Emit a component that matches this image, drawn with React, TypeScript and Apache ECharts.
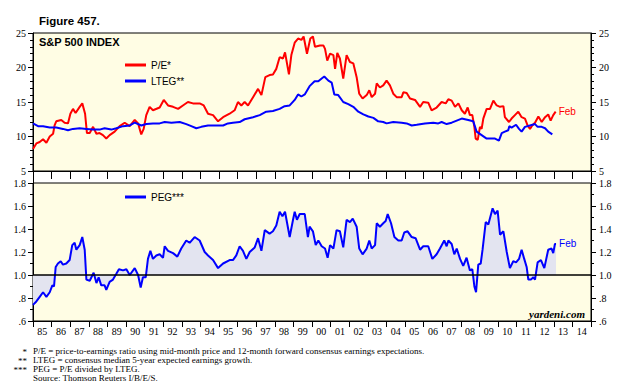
import React, { useEffect, useRef } from "react";
import * as echarts from "echarts";

const YEARS = ["85","86","87","88","89","90","91","92","93","94","95","96","97","98","99","00","01","02","03","04","05","06","07","08","09","10","11","12","13","14"];

const PE_TICKS = [5, 10, 15, 20, 25];
const PEG_TICKS = [0.6, 0.8, 1.0, 1.2, 1.4, 1.6, 1.8];
const PEG_TICK_LABELS = [".6", ".8", "1.0", "1.2", "1.4", "1.6", "1.8"];

const peData: [number, number][] = [
  [1985.00,8.2],[1985.18,9.0],[1985.36,9.2],[1985.54,9.6],[1985.72,9.1],[1985.90,10.0],[1986.08,10.4],[1986.16,11.6],[1986.25,12.2],[1986.52,12.4],[1986.70,12.0],[1986.88,11.9],[1987.01,13.3],[1987.15,14.0],[1987.29,13.4],[1987.51,14.3],[1987.65,14.8],[1987.80,13.3],[1987.90,10.5],[1988.05,10.5],[1988.23,11.4],[1988.41,10.4],[1988.58,10.5],[1988.76,10.2],[1988.94,9.7],[1989.12,10.2],[1989.39,10.7],[1989.66,11.5],[1989.93,12.0],[1990.20,11.5],[1990.47,12.4],[1990.65,11.9],[1990.82,10.3],[1990.95,11.1],[1991.09,13.1],[1991.27,14.3],[1991.45,13.8],[1991.81,14.2],[1992.03,15.3],[1992.26,14.5],[1992.53,14.3],[1992.80,14.0],[1993.06,14.5],[1993.33,15.0],[1993.60,14.8],[1993.96,14.8],[1994.18,14.5],[1994.41,13.3],[1994.68,13.1],[1994.95,12.2],[1995.22,12.8],[1995.57,13.3],[1995.84,13.8],[1996.02,15.0],[1996.20,14.5],[1996.38,15.0],[1996.56,14.5],[1996.83,15.7],[1997.10,16.9],[1997.28,16.0],[1997.49,18.6],[1997.72,18.9],[1997.90,19.0],[1998.08,19.8],[1998.26,21.5],[1998.44,21.3],[1998.55,22.2],[1998.76,19.0],[1998.89,21.8],[1999.07,23.6],[1999.25,24.2],[1999.43,24.0],[1999.55,24.5],[1999.73,22.0],[1999.91,24.2],[2000.05,24.5],[2000.16,23.0],
  [2000.43,23.2],[2000.61,23.2],[2000.70,22.7],[2000.82,21.0],[2000.97,22.0],[2001.15,21.8],[2001.24,19.8],[2001.36,22.1],[2001.50,21.3],[2001.68,18.4],[2001.86,21.8],[2002.04,20.8],[2002.22,20.6],[2002.40,18.6],[2002.54,16.2],[2002.72,15.5],[2002.94,16.0],[2003.08,16.7],[2003.21,15.7],[2003.39,16.2],[2003.48,17.7],[2003.65,17.1],[2003.83,17.4],[2004.01,18.1],[2004.19,17.4],[2004.37,16.2],[2004.55,15.7],[2004.82,15.7],[2004.91,16.4],[2005.09,16.3],[2005.27,15.5],[2005.54,15.3],[2005.81,14.3],[2005.98,15.0],[2006.25,14.9],[2006.43,13.8],[2006.70,14.2],[2006.97,15.0],[2007.19,14.8],[2007.33,15.4],[2007.51,15.2],[2007.69,14.3],[2007.87,14.8],[2008.05,13.8],[2008.22,13.3],[2008.37,14.2],[2008.49,13.1],[2008.62,13.1],[2008.73,11.4],[2008.80,9.7],[2008.91,9.5],[2009.03,11.4],[2009.12,11.1],[2009.21,12.6],[2009.39,14.0],[2009.57,14.0],[2009.75,15.2],[2009.93,14.5],[2010.11,14.3],[2010.29,14.4],[2010.37,12.8],[2010.59,12.1],[2010.73,12.6],[2010.91,13.1],[2011.09,13.6],[2011.27,12.8],[2011.45,12.6],[2011.59,11.6],[2011.72,11.1],[2011.84,11.6],[2011.99,12.0],[2012.17,12.9],[2012.35,12.1],[2012.53,12.8],[2012.70,13.2],[2012.83,12.3],[2012.97,13.1],[2013.10,13.6]
];

const ltegData: [number, number][] = [
  [1985.00,11.9],[1985.27,11.5],[1985.54,11.5],[1985.90,11.3],[1986.25,11.3],[1986.61,11.1],[1986.88,10.9],[1987.15,11.1],[1987.51,11.2],[1987.87,11.1],[1988.23,11.0],[1988.58,11.0],[1988.85,11.2],[1989.21,11.0],[1989.48,11.2],[1989.84,11.5],[1990.20,11.6],[1990.47,12.0],[1990.82,11.6],[1991.09,11.8],[1991.45,11.9],[1991.81,11.9],[1992.08,12.1],[1992.44,12.0],[1992.89,12.1],[1993.24,11.8],[1993.51,11.5],[1993.78,11.2],[1994.05,11.4],[1994.41,11.6],[1994.86,11.6],[1995.22,11.6],[1995.48,11.9],[1995.75,12.0],[1996.11,12.1],[1996.38,12.5],[1996.83,12.8],[1997.19,13.1],[1997.54,13.6],[1997.90,13.7],[1998.26,14.0],[1998.53,14.4],[1998.80,14.5],[1999.07,15.3],[1999.25,16.1],[1999.43,15.8],[1999.61,16.1],[1999.87,17.3],[2000.14,18.0],
  [2000.34,18.0],[2000.52,18.4],[2000.66,18.7],[2000.88,18.1],[2001.06,17.8],[2001.20,16.1],[2001.41,16.0],[2001.68,15.0],[2001.95,14.7],[2002.22,14.3],[2002.49,13.6],[2002.76,13.2],[2003.03,12.9],[2003.30,12.7],[2003.56,12.2],[2003.83,12.1],[2004.01,11.9],[2004.37,12.1],[2004.82,12.0],[2005.09,11.9],[2005.36,11.6],[2005.63,11.7],[2006.07,11.9],[2006.52,12.0],[2006.79,11.9],[2006.97,12.1],[2007.24,11.8],[2007.51,12.0],[2007.78,12.3],[2008.05,12.6],[2008.40,12.4],[2008.67,12.2],[2008.85,10.7],[2009.12,10.2],[2009.39,9.7],[2009.66,9.7],[2009.84,9.7],[2010.05,9.4],[2010.20,10.5],[2010.37,10.7],[2010.55,10.9],[2010.61,11.5],[2010.73,11.3],[2010.97,11.7],[2011.13,11.1],[2011.27,10.7],[2011.45,11.4],[2011.72,11.6],[2011.99,11.8],[2012.13,11.4],[2012.35,11.4],[2012.53,11.2],[2012.70,10.7],[2012.92,10.3]
];

const pegData: [number, number][] = [
  [1985.00,0.74],[1985.18,0.77],[1985.36,0.81],[1985.54,0.85],[1985.72,0.81],[1985.90,0.85],[1986.04,0.91],[1986.13,0.90],[1986.22,1.07],[1986.34,1.10],[1986.49,1.12],[1986.61,1.09],[1986.79,1.10],[1986.97,1.13],[1987.11,1.26],[1987.24,1.28],[1987.33,1.22],[1987.51,1.26],[1987.65,1.33],[1987.78,1.22],[1987.87,0.96],[1988.05,0.95],[1988.26,1.02],[1988.41,0.93],[1988.53,0.98],[1988.67,0.91],[1988.85,0.91],[1988.94,0.87],[1989.12,0.94],[1989.30,0.96],[1989.48,1.01],[1989.62,1.05],[1989.84,1.04],[1990.02,1.05],[1990.20,1.00],[1990.47,1.06],[1990.65,1.00],[1990.79,0.89],[1990.91,0.98],[1991.06,0.98],[1991.18,1.14],[1991.31,1.21],[1991.45,1.14],[1991.63,1.17],[1991.81,1.18],[1991.99,1.15],[1992.08,1.25],[1992.26,1.21],[1992.53,1.19],[1992.76,1.16],[1992.97,1.23],[1993.24,1.30],[1993.42,1.28],[1993.69,1.33],[1993.96,1.30],[1994.23,1.20],[1994.41,1.17],[1994.68,1.13],[1994.95,1.06],[1995.22,1.10],[1995.57,1.13],[1995.75,1.13],[1995.93,1.17],[1996.11,1.25],[1996.29,1.21],[1996.47,1.14],[1996.65,1.20],[1996.92,1.24],[1997.10,1.32],[1997.28,1.21],[1997.46,1.39],[1997.72,1.36],[1997.90,1.38],[1998.08,1.43],[1998.26,1.55],[1998.41,1.51],[1998.55,1.55],[1998.80,1.33],[1998.98,1.48],[1999.07,1.55],[1999.19,1.48],[1999.34,1.53],[1999.61,1.53],[1999.78,1.33],[1999.87,1.42],[2000.05,1.38],[2000.20,1.26],
  [2000.34,1.30],[2000.52,1.25],[2000.70,1.23],[2000.84,1.15],[2000.97,1.26],[2001.15,1.23],[2001.32,1.39],[2001.50,1.38],[2001.68,1.24],[2001.86,1.48],[2002.04,1.46],[2002.19,1.49],[2002.40,1.42],[2002.54,1.23],[2002.72,1.18],[2002.94,1.23],[2003.08,1.30],[2003.21,1.23],[2003.39,1.26],[2003.48,1.45],[2003.65,1.42],[2003.83,1.45],[2003.96,1.47],[2004.07,1.53],[2004.25,1.45],[2004.43,1.33],[2004.64,1.30],[2004.82,1.30],[2004.96,1.37],[2005.14,1.38],[2005.36,1.33],[2005.57,1.32],[2005.81,1.22],[2005.98,1.25],[2006.25,1.25],[2006.47,1.14],[2006.70,1.18],[2006.88,1.23],[2007.11,1.30],[2007.24,1.25],[2007.33,1.30],[2007.51,1.27],[2007.65,1.18],[2007.78,1.23],[2007.96,1.14],[2008.13,1.08],[2008.31,1.15],[2008.49,1.04],[2008.62,1.05],[2008.73,0.90],[2008.82,0.85],[2008.94,1.09],[2009.07,1.10],[2009.17,1.22],[2009.34,1.46],[2009.48,1.44],[2009.71,1.58],[2009.84,1.53],[2009.98,1.56],[2010.11,1.35],[2010.29,1.38],[2010.47,1.20],[2010.64,1.06],[2010.82,1.12],[2010.97,1.11],[2011.13,1.14],[2011.27,1.22],[2011.41,1.14],[2011.54,1.07],[2011.63,0.96],[2011.77,0.96],[2011.90,0.98],[2011.99,0.96],[2012.13,1.11],[2012.31,1.13],[2012.49,1.06],[2012.70,1.22],[2012.88,1.23],[2012.97,1.19],[2013.06,1.27],[2013.12,1.27]
];

const FOOT_MARKS = ["*", "**", "***", ""];
const FOOT_LINES = [
  "P/E = price-to-earnings ratio using mid-month price and 12-month forward consensus earnings expectations.",
  "LTEG = consensus median 5-year expected earnings growth.",
  "PEG = P/E divided by LTEG.",
  "Source: Thomson Reuters I/B/E/S.",
];

const SANS = "'Liberation Sans', Arial, sans-serif";
const SERIF = "'Liberation Serif', 'Times New Roman', serif";
const BG = "#FFFDE4";
const RED = "#FF0000";
const BLUE = "#0000FF";

export default function App() {
  const ref = useRef<HTMLDivElement>(null);
  useEffect(() => {
    if (!ref.current) return;
    const chart = echarts.init(ref.current, undefined, { renderer: "svg" });
    const L = 33, W = 558;
    const axisBlack = { lineStyle: { color: "#000", width: 1 } };
    const catAxis = (grid: number, labels: boolean, tickLen: number) => ({
      gridIndex: grid,
      type: "category",
      data: YEARS,
      boundaryGap: true,
      position: "bottom",
      axisLine: { show: true, ...axisBlack },
      axisTick: { show: true, length: tickLen, interval: 0, ...axisBlack },
      axisLabel: labels
        ? { show: true, interval: 0, fontSize: 10, fontFamily: SERIF, color: "#000", margin: 5 }
        : { show: false },
      splitLine: { show: false },
    });
    const valX = (grid: number) => ({ gridIndex: grid, type: "value", min: 1985, max: 2015, show: false });
    const peY = (pos: string) => ({
      gridIndex: 0,
      type: "value",
      position: pos,
      min: PE_TICKS[0],
      max: PE_TICKS[PE_TICKS.length - 1],
      interval: 5,
      axisLine: { show: true, ...axisBlack },
      axisTick: { show: true, length: 5, ...axisBlack },
      minorTick: { show: true, splitNumber: 5, length: 3, ...axisBlack },
      splitLine: { show: false },
      minorSplitLine: { show: false },
      axisLabel: { fontSize: 10, fontFamily: SERIF, color: "#000", margin: pos === "left" ? 7 : 8 },
    });
    const pegY = (pos: string) => ({
      gridIndex: 1,
      type: "value",
      position: pos,
      min: PEG_TICKS[0],
      max: PEG_TICKS[PEG_TICKS.length - 1],
      interval: 0.2,
      axisLine: { show: true, ...axisBlack },
      axisTick: { show: true, length: 5, ...axisBlack },
      minorTick: { show: true, splitNumber: 2, length: 3, ...axisBlack },
      splitLine: { show: false },
      minorSplitLine: { show: false },
      axisLabel: {
        fontSize: 10,
        fontFamily: SERIF,
        color: "#000",
        margin: pos === "left" ? 7 : 8,
        formatter: (v: number) => {
          const i = PEG_TICKS.findIndex((t) => Math.abs(t - v) < 1e-6);
          return i >= 0 ? PEG_TICK_LABELS[i] : "";
        },
      },
    });
    const legendBase = {
      orient: "vertical",
      left: 125,
      padding: 0,
      itemWidth: 21,
      itemHeight: 3,
      itemGap: 4,
      icon: "rect",
      selectedMode: false,
      textStyle: { fontSize: 10, fontFamily: SANS, color: "#000", lineHeight: 12 },
    };
    const graphics: any[] = [
      { type: "text", left: 39, top: 15, style: { text: "Figure 457.", font: `bold 11.5px ${SANS}`, fill: "#000" } },
      { type: "text", left: 39, top: 36, style: { text: "S&P 500 INDEX", font: `bold 11px ${SANS}`, fill: "#000" }, z: 10 },
      { type: "text", x: 585, y: 314, style: { text: "yardeni.com", font: `italic bold 11px ${SERIF}`, fill: "#000", align: "right", verticalAlign: "middle" }, z: 10 },
      { type: "line", shape: { x1: 33.5, y1: 171, x2: 33.5, y2: 183 }, style: { stroke: "#000", lineWidth: 1 } },
      { type: "line", shape: { x1: 591.5, y1: 171, x2: 591.5, y2: 183 }, style: { stroke: "#000", lineWidth: 1 } },
    ];
    FOOT_LINES.forEach((t, i) => {
      const y = 350.5 + i * 9.2;
      if (FOOT_MARKS[i]) {
        graphics.push({ type: "text", x: 27, y: y + 1, style: { text: FOOT_MARKS[i], font: `9px ${SERIF}`, fill: "#000", align: "right", verticalAlign: "middle" } });
      }
      graphics.push({ type: "text", x: 33, y, style: { text: t, font: `9px ${SERIF}`, fill: "#000", align: "left", verticalAlign: "middle" } });
    });

    chart.setOption({
      animation: false,
      backgroundColor: "#fff",
      grid: [
        { left: L, width: W, top: 33, height: 138, show: true, backgroundColor: BG, borderColor: "#000", borderWidth: 1 },
        { left: L, width: W, top: 183, height: 138, show: true, backgroundColor: BG, borderColor: "#000", borderWidth: 1 },
      ],
      xAxis: [catAxis(0, false, 8), valX(0), catAxis(1, true, 6), valX(1)],
      yAxis: [peY("left"), peY("right"), pegY("left"), pegY("right")],
      legend: [
        { ...legendBase, top: 59, data: ["P/E*", "LTEG**"] },
        { ...legendBase, top: 191, data: ["PEG***"] },
      ],
      series: [
        {
          name: "P/E*",
          type: "line",
          xAxisIndex: 1,
          yAxisIndex: 0,
          data: peData,
          showSymbol: false,
          lineStyle: { color: RED, width: 2 },
          itemStyle: { color: RED },
          endLabel: { show: true, formatter: "Feb", color: RED, fontSize: 10, fontFamily: SANS, distance: 3 },
        },
        {
          name: "LTEG**",
          type: "line",
          xAxisIndex: 1,
          yAxisIndex: 0,
          data: ltegData,
          showSymbol: false,
          lineStyle: { color: BLUE, width: 2 },
          itemStyle: { color: BLUE },
        },
        {
          name: "PEG***",
          type: "line",
          xAxisIndex: 3,
          yAxisIndex: 2,
          data: pegData,
          showSymbol: false,
          lineStyle: { color: BLUE, width: 2 },
          itemStyle: { color: BLUE },
          areaStyle: { origin: 1, color: "#E3E4F0", opacity: 1 },
          endLabel: { show: true, formatter: "Feb", color: BLUE, fontSize: 10, fontFamily: SANS, distance: 3 },
          markLine: {
            silent: true,
            symbol: "none",
            label: { show: false },
            lineStyle: { color: "#000", width: 1.5, type: "solid" },
            data: [{ yAxis: 1 }],
          },
        },
      ],
      graphic: graphics,
    });
    return () => chart.dispose();
  }, []);
  return <div ref={ref} style={{ position: "fixed", left: 0, top: 0, width: 635, height: 388 }} />;
}
